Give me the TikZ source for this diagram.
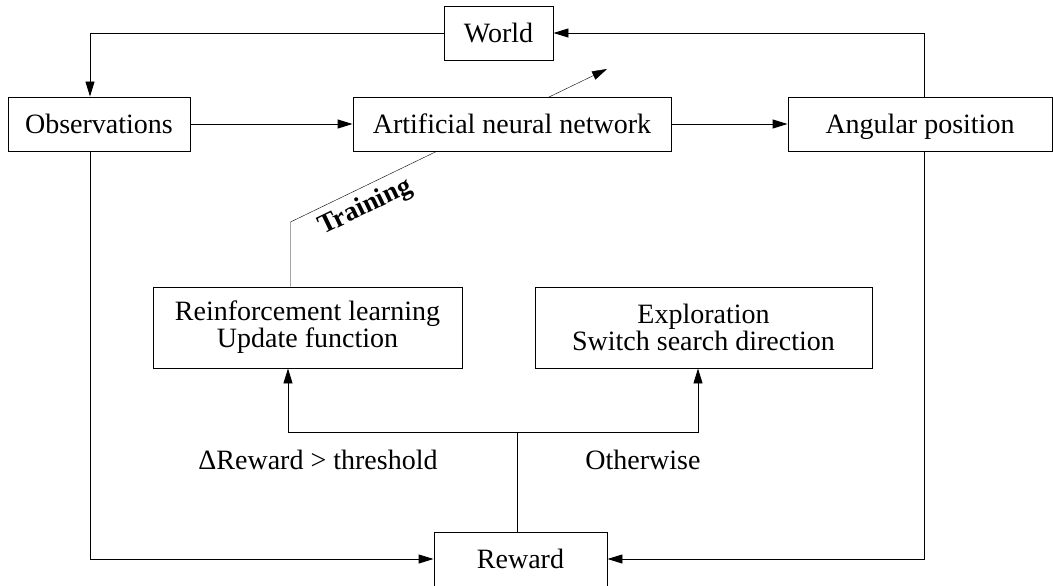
\documentclass[tikz,border=0pt]{standalone}
\usepackage{fontspec}
\setmainfont{Liberation Serif}
\usetikzlibrary{arrows.meta,backgrounds}

\begin{document}
\begin{tikzpicture}[x=1pt,y=-1pt,line width=0.9pt,
    >={Triangle[length=15pt,width=9pt]},
    box/.style={draw,fill=white,inner sep=0pt,align=center,
      font=\fontsize{28}{27}\selectfont},
    onebox/.style={box,text height=18.5pt,text depth=0pt,minimum height=54pt},
    cond/.style={inner sep=0pt,anchor=base,font=\fontsize{28}{27}\selectfont}]
    \useasboundingbox (0,0) rectangle (1053,586);
    % blocks
    \node[onebox,minimum width=109pt] (world) at (498.5,33) {World};
    \node[onebox,minimum width=182pt] (obs) at (99,124) {Observations};
    \node[onebox,minimum width=318pt] (ann) at (512,124) {Artificial neural network};
    \node[onebox,minimum width=264pt] (ang) at (920,124) {Angular position};
    \node[box,minimum width=309pt,minimum height=81pt] (rl) at (307.5,327.5)
      {Reinforcement learning\\Update function};
    \node[box,minimum width=337pt,minimum height=81pt] (expl) at (703.5,327.5)
      {Exploration\\Switch search direction};
    \node[onebox,minimum width=173pt] (reward) at (520.5,559) {Reward};
    \coordinate (split) at (517,432);
    \coordinate (bend) at (290.5,222);
    \coordinate (tip) at (607,69);
    % main loop
    \draw[->] (world.west) -| ([xshift=-9pt]obs.north);
    \draw[->] (obs) -- (ann);
    \draw[->] (ann) -- (ang);
    \draw[->] ([xshift=4pt]ang.north) |- (world.east);
    \draw[->] ([xshift=-9pt]obs.south) |- (reward.west);
    \draw[->] ([xshift=4pt]ang.south) |- (reward.east);
    % reward split
    \draw (reward.north -| split) -- (split);
    \draw[->] (split) -| ([xshift=-19.5pt]rl.south);
    \draw[->] (split) -| ([xshift=-5.5pt]expl.south);
    \node[cond] (gain) at (318,469) {ΔReward > threshold};
    \node[cond] (other) at (643,469) {Otherwise};
    % training goes behind the network box
    \begin{scope}[on background layer]
      \draw[->] (rl.north -| bend) -- (bend) -- node[sloped,below,pos=0.21,inner sep=7pt,
        font=\fontsize{27}{27}\selectfont\bfseries] (train) {Training} (tip);
    \end{scope}
\end{tikzpicture}
\end{document}
